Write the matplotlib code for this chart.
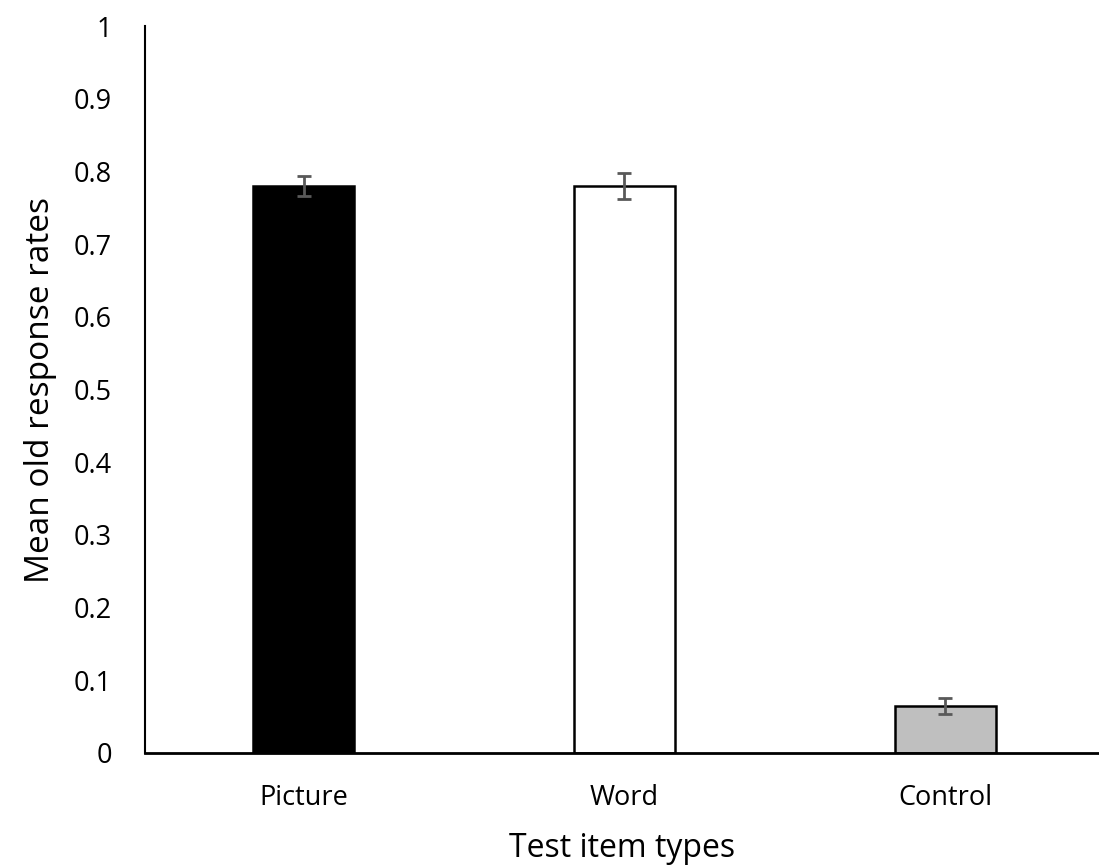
import matplotlib
matplotlib.use("Agg")
import matplotlib.pyplot as plt
import numpy as np

# --------------------
# Data
# --------------------
categories = ["Picture", "Word", "Control"]
means = [0.78, 0.78, 0.065]
errors = [0.014, 0.018, 0.011]
colors = ["#000000", "#ffffff", "#bfbfbf"]

plt.rcParams["font.family"] = ["Open Sans", "DejaVu Sans"]

# --------------------
# Chart setup
# --------------------
fig = plt.figure(figsize=(10.99, 8.68), dpi=100)
ax = fig.add_axes([0.132, 0.1325, 0.868, 0.8375])

x = np.arange(len(categories))
ax.bar(x, means, width=0.315, color=colors, edgecolor="black", linewidth=1.8, zorder=2)
ax.errorbar(x, means, yerr=errors, fmt="none", ecolor="#595959",
            elinewidth=2, capsize=5, capthick=2, zorder=3)

# --------------------
# Styling
# --------------------
ax.set_xlim(-0.495, 2.48)
ax.set_ylim(0, 1)
ax.set_yticks(np.arange(0, 1.01, 0.1))
ax.set_yticklabels(["0"] + [f"{v:.1f}" for v in np.arange(0.1, 0.95, 0.1)] + ["1"])
ax.set_xticks(x)
ax.set_xticklabels(categories)
ax.tick_params(axis="both", length=0, labelsize=19.5)
ax.tick_params(axis="x", pad=22)
ax.tick_params(axis="y", pad=24)

for side in ["top", "right"]:
    ax.spines[side].set_visible(False)
ax.spines["left"].set_linewidth(1.5)
ax.spines["bottom"].set_linewidth(2)

ax.set_xlabel("Test item types", fontsize=23, labelpad=15)
ax.set_ylabel("Mean old response rates", fontsize=24, labelpad=12)

fig.savefig("out.png", dpi=100)
